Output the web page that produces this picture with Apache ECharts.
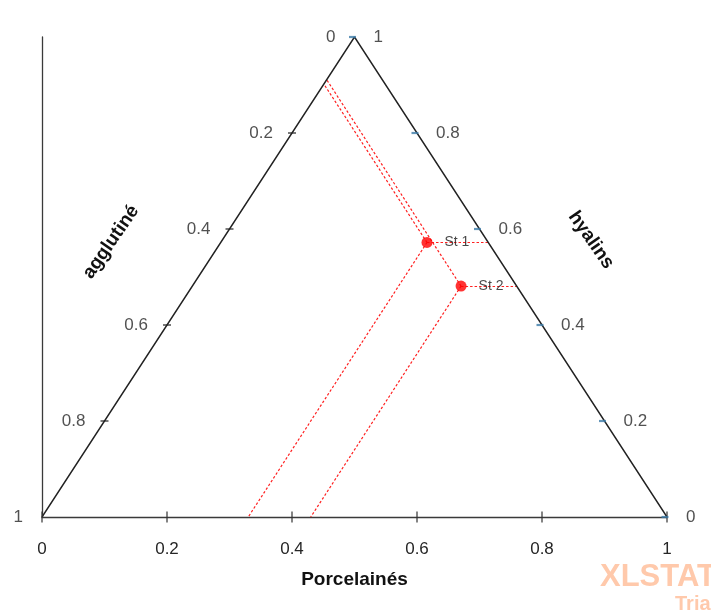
<!DOCTYPE html>
<html><head><meta charset="utf-8">
<script src="https://cdn.jsdelivr.net/npm/echarts@6/dist/echarts.min.js"></script>
<style>html,body{margin:0;padding:0;background:#fff}#c{width:711px;height:610px}</style>
</head><body><div id="c"></div>
<script>
// Ternary data: Porcelainés, hyalins, agglutiné
const stations = ['St 1', 'St 2'];
const porc = [0.330, 0.430];
const hyal = [0.572, 0.481];
const agg  = [0.098, 0.089];
const xTicks = [0, 0.2, 0.4, 0.6, 0.8, 1];
const aggTicks = [0, 0.2, 0.4, 0.6, 0.8, 1];
const hyalTicks = [0, 0.2, 0.4, 0.6, 0.8, 1];

const toXY = (p, h) => [p + h / 2, h];
const FONT = 'Liberation Sans';

// triangle edges (bottom-left -> apex -> bottom-right)
const tri = [toXY(0, 0), toXY(0, 1), toXY(1, 0)];

// projection segments
const segs = [];
for (let i = 0; i < stations.length; i++) {
  const pt = toXY(porc[i], hyal[i]);
  segs.push({coords: [pt, toXY(porc[i], 0)]});                 // porc constant -> bottom
  segs.push({coords: [pt, toXY(1 - hyal[i], hyal[i])]});       // hyal constant -> right edge
  segs.push({coords: [pt, toXY(0, 1 - agg[i])]});              // agg constant -> left edge
}

const leftTicks = aggTicks.filter(a => a > 0 && a < 1).map(a => toXY(0, 1 - a));
const leftLabels = aggTicks.map(a => ({value: toXY(0, 1 - a), name: String(a)}));
const rightTicks = hyalTicks.map(h => toXY(1 - h, h));
const rightLabels = hyalTicks.map(h => ({value: toXY(1 - h, h), name: String(h)}));
const bottomTicks = xTicks.map(v => [v, 0]);

const chart = echarts.init(document.getElementById('c'));
chart.setOption({
  animation: false,
  backgroundColor: '#fff',
  grid: {left: 42, right: 44, top: 37, bottom: 93},
  xAxis: {
    type: 'value', min: 0, max: 1, interval: 0.2,
    axisLine: {lineStyle: {color: '#3a3a3a', width: 1.3}},
    axisTick: {show: false},
    splitLine: {show: false},
    axisLabel: {color: '#262626', fontFamily: FONT, fontSize: 17, margin: 24,
      formatter: v => String(+v.toFixed(1))},
    name: 'Porcelainés', nameLocation: 'middle', nameGap: 53,
    nameTextStyle: {color: '#111', fontFamily: FONT, fontSize: 19, fontWeight: 'bold'}
  },
  yAxis: {
    type: 'value', min: 0, max: 1,
    axisLine: {show: true, lineStyle: {color: '#3a3a3a', width: 1.3}},
    axisTick: {show: false}, axisLabel: {show: false}, splitLine: {show: false}
  },
  series: [
    {type: 'line', data: tri, symbol: 'none', lineStyle: {color: '#222', width: 1.4}, z: 3},
    {type: 'lines', coordinateSystem: 'cartesian2d', data: segs,
     lineStyle: {color: '#ff2020', width: 1.2, type: [2.5, 2], opacity: 1}, z: 2},
    {type: 'scatter', data: bottomTicks, symbol: 'rect', symbolSize: [1.5, 11],
     itemStyle: {color: '#333'}, z: 4},
    {type: 'scatter', data: leftTicks, symbol: 'rect', symbolSize: [8, 1.5],
     itemStyle: {color: '#222'}, z: 4},
    {type: 'scatter', data: rightTicks, symbol: 'rect', symbolSize: [7, 2.2], symbolOffset: [-2, 0],
     itemStyle: {color: '#3b7aa8'}, z: 4},
    {type: 'scatter', data: leftLabels, symbolSize: 0,
     label: {show: true, position: 'left', distance: 19, formatter: p => p.name,
       color: '#262626', fontFamily: FONT, fontSize: 17}},
    {type: 'scatter', data: rightLabels, symbolSize: 0,
     label: {show: true, position: 'right', distance: 19, formatter: p => p.name,
       color: '#262626', fontFamily: FONT, fontSize: 17}},
    {type: 'scatter', data: stations.map((s, i) => ({value: toXY(porc[i], hyal[i]), name: s})),
     symbol: 'circle', symbolSize: 11, itemStyle: {color: '#ff0000'}, z: 5,
     label: {show: true, position: 'right', distance: 12, formatter: p => p.name,
       color: '#1a1a1a', fontFamily: FONT, fontSize: 14}}
  ],
  graphic: [
    {type: 'text', x: 111, y: 242, rotation: 55.5 * Math.PI / 180,
     style: {text: 'agglutiné', fill: '#111', font: 'bold 19px "Liberation Sans"', textAlign: 'center', textVerticalAlign: 'middle'}},
    {type: 'text', x: 591, y: 240, rotation: -55 * Math.PI / 180,
     style: {text: 'hyalins', fill: '#111', font: 'bold 19px "Liberation Sans"', textAlign: 'center', textVerticalAlign: 'middle'}},
    {type: 'text', x: 600, y: 577,
     style: {text: 'XLSTAT', fill: '#ffc9ab', font: 'bold 31px "Liberation Sans"', textAlign: 'left', textVerticalAlign: 'middle'}},
    {type: 'text', x: 675, y: 604,
     style: {text: 'Trial', fill: '#ffc9ab', font: 'bold 20px "Liberation Sans"', textAlign: 'left', textVerticalAlign: 'middle'}}
  ]
});
</script></body></html>
